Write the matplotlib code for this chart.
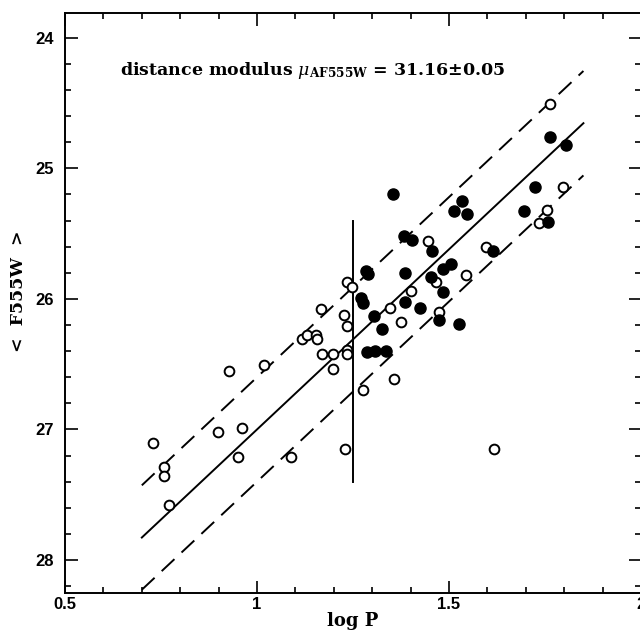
import numpy as np
import matplotlib
matplotlib.use("Agg")
import matplotlib.pyplot as plt
from matplotlib.ticker import MultipleLocator

plt.rcParams['font.family'] = ['DejaVu Serif']
plt.rcParams['mathtext.fontset'] = 'dejavuserif'

# open symbols: log P, <F555W>
open_logp = [0.730, 0.759, 0.759, 0.771, 0.899, 0.960, 0.950, 1.088, 0.928, 1.018,
             1.116, 1.129, 1.154, 1.155, 1.167, 1.168, 1.197, 1.197, 1.227, 1.235,
             1.234, 1.247, 1.235, 1.235, 1.277, 1.357, 1.229, 1.617, 1.345, 1.375,
             1.402, 1.444, 1.466, 1.475, 1.544, 1.596, 1.762, 1.796, 1.754, 1.734]
open_mag = [27.10, 27.29, 27.36, 27.58, 27.02, 26.99, 27.21, 27.21, 26.55, 26.51,
            26.31, 26.28, 26.28, 26.31, 26.08, 26.42, 26.42, 26.54, 26.12, 26.21,
            25.87, 25.91, 26.39, 26.42, 26.70, 26.61, 27.15, 27.15, 26.07, 26.18,
            25.94, 25.56, 25.87, 26.10, 25.82, 25.60, 24.51, 25.14, 25.32, 25.42]

# filled symbols
fill_logp = [1.354, 1.383, 1.404, 1.456, 1.533, 1.514, 1.548, 1.284, 1.288, 1.385,
             1.504, 1.484, 1.453, 1.485, 1.272, 1.275, 1.385, 1.424, 1.305, 1.325,
             1.475, 1.527, 1.287, 1.307, 1.336, 1.615, 1.763, 1.805, 1.724, 1.694,
             1.757]
fill_mag = [25.20, 25.52, 25.55, 25.63, 25.25, 25.33, 25.35, 25.79, 25.81, 25.80,
            25.73, 25.77, 25.83, 25.95, 25.99, 26.03, 26.02, 26.07, 26.13, 26.23,
            26.16, 26.19, 26.41, 26.40, 26.40, 25.63, 24.76, 24.82, 25.14, 25.33,
            25.41]

# PL relation: V = zp + slope*(logP - 1), with +/- scatter band
pl_slope = -2.76
pl_zp = 27.00
pl_band = 0.40
pl_range = [0.70, 1.85]
cut_logp = 1.25
cut_mag = [25.40, 27.40]

fig = plt.figure(figsize=(6.4, 6.32), dpi=100)
ax = fig.add_axes([0.1016, 0.0623, 0.9, 0.9171])

xx = np.array(pl_range)
yy = pl_zp + pl_slope * (xx - 1)
ax.plot(xx, yy, color='black', lw=1.4)
ax.plot(xx, yy - pl_band, color='black', lw=1.4, dashes=(9, 5))
ax.plot(xx, yy + pl_band, color='black', lw=1.4, dashes=(9, 5))
ax.plot([cut_logp, cut_logp], cut_mag, color='black', lw=1.4)

ax.plot(open_logp, open_mag, 'o', ms=7, mfc='white', mec='black', mew=1.4, zorder=3)
ax.plot(fill_logp, fill_mag, 'o', ms=8, mfc='black', mec='black', zorder=4)

ax.set_xlim(0.5, 2.0)
ax.set_ylim(28.25, 23.81)
ax.xaxis.set_major_locator(MultipleLocator(0.5))
ax.xaxis.set_minor_locator(MultipleLocator(0.1))
ax.yaxis.set_major_locator(MultipleLocator(1))
ax.yaxis.set_minor_locator(MultipleLocator(0.2))
ax.set_xticks([0.5, 1, 1.5, 2])
ax.set_xticklabels(['0.5', '1', '1.5', '2'])
ax.tick_params(which='both', direction='in', top=True, right=True, width=1.2,
               labelsize=12)
ax.tick_params(which='major', length=9)
ax.tick_params(which='minor', length=4.5)
ax.tick_params(axis='x', which='major', pad=3)
ax.tick_params(axis='y', which='major', pad=8)
for lab in ax.get_xticklabels() + ax.get_yticklabels():
    lab.set_fontweight('bold')
    lab.set_family('Liberation Sans')
for sp in ax.spines.values():
    sp.set_linewidth(1.4)

ax.set_xlabel('log P', fontsize=13, fontweight='bold', labelpad=0)
ax.set_ylabel('<  F555W  >', fontsize=12.5, fontweight='bold')
ax.yaxis.set_label_coords(-0.066, 0.52)

ax.text(0.643, 24.25, r'distance modulus $\mu_{\mathbf{AF555W}}$ = 31.16±0.05',
        fontsize=12.5, fontweight='bold', va='center', ha='left')

fig.savefig('out.png', dpi=100)
